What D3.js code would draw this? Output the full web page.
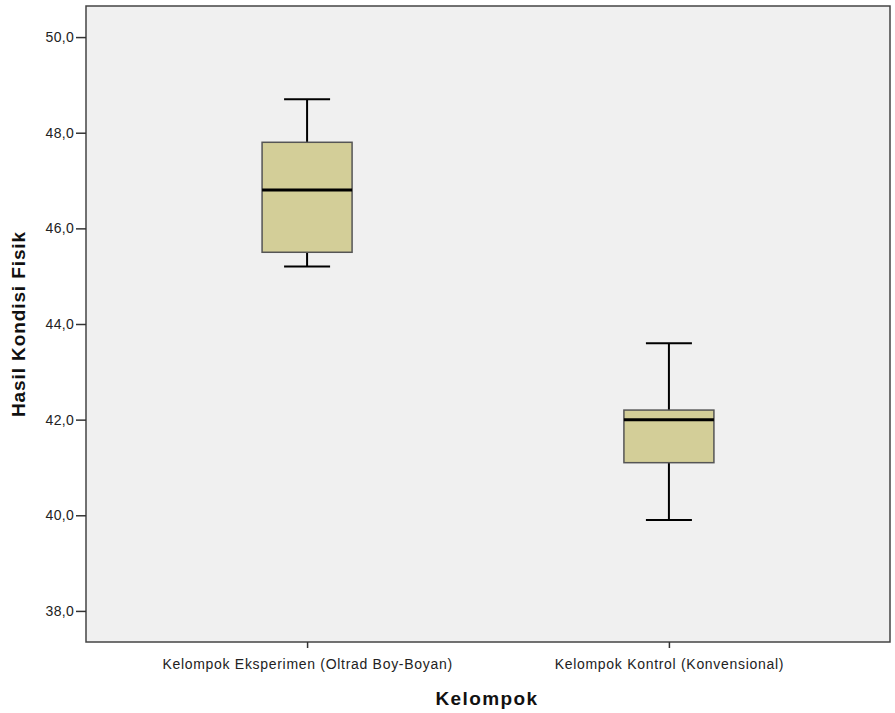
<!DOCTYPE html>
<html><head><meta charset="utf-8">
<script src="https://cdn.jsdelivr.net/npm/d3@7"></script>
<style>body{margin:0;background:#fff;font-family:"Liberation Sans",Arial,sans-serif;}</style>
</head><body><svg id="c" width="895" height="713"></svg>
<script>
const categories = ["Kelompok Eksperimen (Oltrad Boy-Boyan)", "Kelompok Kontrol (Konvensional)"];
const whiskerLow = [45.2, 39.9];
const q1 = [45.5, 41.1];
const median = [46.8, 42.0];
const q3 = [47.8, 42.2];
const whiskerHigh = [48.7, 43.6];
const yTicks = [38, 40, 42, 44, 46, 48, 50];

const svg = d3.select("#c");
const L = 86, R = 890, T = 6, B = 642;
const y = d3.scaleLinear().domain([37.35, 50.65]).range([B, T]);
const x = d3.scalePoint().domain(categories).range([L, R]).padding(0.611);
const boxW = 90, capW = 46;
const FF = "Liberation Sans, Arial, sans-serif";

svg.append("rect").attr("x", L).attr("y", T).attr("width", R - L).attr("height", B - T)
  .attr("fill", "#f0f0f0").attr("stroke", "#444").attr("stroke-width", 1.5);

const fmt = d => d.toFixed(1).replace(".", ",");
const yAxis = svg.append("g").attr("transform", `translate(${L},0)`)
  .call(d3.axisLeft(y).tickValues(yTicks).tickFormat(fmt).tickSize(10).tickPadding(2));
yAxis.select(".domain").remove();
yAxis.selectAll(".tick line").attr("stroke", "#333").attr("stroke-width", 1.5);
yAxis.selectAll(".tick text").attr("fill", "#222").style("font-size", "14px").style("letter-spacing", "0.3px").style("font-family", FF);

const xAxis = svg.append("g").attr("transform", `translate(0,${B})`)
  .call(d3.axisBottom(x).tickSize(6).tickPadding(11));
xAxis.select(".domain").remove();
xAxis.selectAll(".tick line").attr("stroke", "#333").attr("stroke-width", 1.5);
xAxis.selectAll(".tick text").attr("fill", "#222").style("font-size", "14px").style("letter-spacing", "0.7px").style("font-family", FF);

const data = categories.map((c, i) => ({c, lo: whiskerLow[i], q1: q1[i], med: median[i], q3: q3[i], hi: whiskerHigh[i]}));
const g = svg.append("g").selectAll("g").data(data).join("g");
g.append("line").attr("x1", d => x(d.c)).attr("x2", d => x(d.c)).attr("y1", d => y(d.lo)).attr("y2", d => y(d.hi))
  .attr("stroke", "#000").attr("stroke-width", 2);
g.append("line").attr("x1", d => x(d.c) - capW / 2).attr("x2", d => x(d.c) + capW / 2).attr("y1", d => y(d.hi)).attr("y2", d => y(d.hi))
  .attr("stroke", "#000").attr("stroke-width", 2);
g.append("line").attr("x1", d => x(d.c) - capW / 2).attr("x2", d => x(d.c) + capW / 2).attr("y1", d => y(d.lo)).attr("y2", d => y(d.lo))
  .attr("stroke", "#000").attr("stroke-width", 2);
g.append("rect").attr("x", d => x(d.c) - boxW / 2).attr("width", boxW)
  .attr("y", d => y(d.q3)).attr("height", d => y(d.q1) - y(d.q3))
  .attr("fill", "#d3ce98").attr("stroke", "#555").attr("stroke-width", 1.5);
g.append("line").attr("x1", d => x(d.c) - boxW / 2).attr("x2", d => x(d.c) + boxW / 2).attr("y1", d => y(d.med)).attr("y2", d => y(d.med))
  .attr("stroke", "#000").attr("stroke-width", 3);

svg.append("text").attr("x", (L + R) / 2 - 1).attr("y", 705).attr("text-anchor", "middle")
  .style("font-size", "19px").style("font-weight", "bold").style("letter-spacing", "1.4px").style("font-family", FF)
  .attr("fill", "#111").text("Kelompok");
svg.append("text").attr("transform", `translate(25,${(T + B) / 2}) rotate(-90)`).attr("text-anchor", "middle")
  .style("font-size", "19px").style("font-weight", "bold").style("letter-spacing", "0.9px").style("font-family", FF)
  .attr("fill", "#111").text("Hasil Kondisi Fisik");
</script></body></html>
